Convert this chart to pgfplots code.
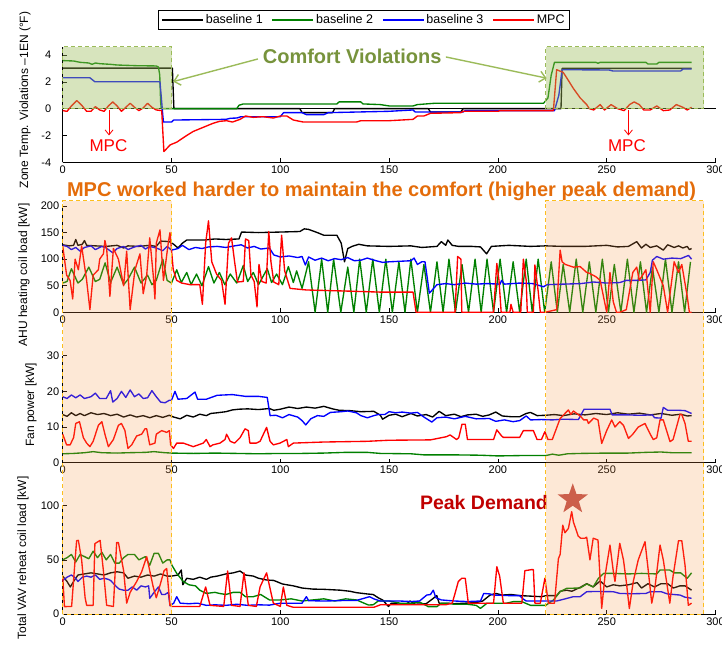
\documentclass[border=0pt]{standalone}
\usepackage{fontspec}
\setmainfont{Liberation Sans}
\usepackage{pgfplots}
\pgfplotsset{compat=1.18}
\usetikzlibrary{arrows.meta}

\definecolor{bgreen}{RGB}{0,128,0}
\definecolor{cvgreen}{RGB}{119,147,60}
\definecolor{cvline}{RGB}{155,187,89}
\definecolor{peach}{RGB}{247,150,70}
\definecolor{gold}{RGB}{252,190,30}
\definecolor{torange}{RGB}{228,108,10}
\definecolor{pdred}{RGB}{192,0,0}
\definecolor{starc}{RGB}{192,80,77}

\pgfdeclareplotmark{fstar}{%
  \pgfpathmoveto{\pgfpointpolar{90}{\pgfplotmarksize}}%
  \pgfpathlineto{\pgfpointpolar{126}{0.40*\pgfplotmarksize}}%
  \pgfpathlineto{\pgfpointpolar{162}{\pgfplotmarksize}}%
  \pgfpathlineto{\pgfpointpolar{198}{0.40*\pgfplotmarksize}}%
  \pgfpathlineto{\pgfpointpolar{234}{\pgfplotmarksize}}%
  \pgfpathlineto{\pgfpointpolar{270}{0.40*\pgfplotmarksize}}%
  \pgfpathlineto{\pgfpointpolar{306}{\pgfplotmarksize}}%
  \pgfpathlineto{\pgfpointpolar{342}{0.40*\pgfplotmarksize}}%
  \pgfpathlineto{\pgfpointpolar{18}{\pgfplotmarksize}}%
  \pgfpathlineto{\pgfpointpolar{54}{0.40*\pgfplotmarksize}}%
  \pgfpathclose
  \pgfusepathqfill
}

\tikzset{ylab/.style={rotate=90, font=\fontsize{12}{14}\selectfont, anchor=center}}

\pgfplotsset{
  panel/.style={
    scale only axis, width=652.8pt, xmin=0, xmax=300,
    axis x line*=bottom, axis y line*=left,
    xtick={0,50,100,150,200,250,300},
    tick align=inside, major tick length=4pt,
    tick style={black, line width=0.5pt},
    axis line style={black, line width=0.6pt},
    tick label style={font=\fontsize{11}{12}\selectfont, black},
    /pgf/number format/assume math mode=true,
    every axis plot post/.append style={line width=1.35pt, line join=round},
    clip=false,
  },
}

\begin{document}
\begin{tikzpicture}
\useasboundingbox (0pt,0pt) rectangle (722pt,-647pt);

% ---------------- Panel 1 ----------------
\begin{axis}[panel, name=p1, at={(62.7pt,-162.3pt)}, anchor=south west,
  height=115.4pt, ymin=-4, ymax=4.6, ytick={-4,-2,0,2,4},
  yticklabel style={xshift=-8pt},
  legend columns=4,
  legend style={at={(axis description cs:0.4616,1.233)}, anchor=center,
    draw=black, line width=0.8pt, font=\fontsize{12.5}{14}\selectfont,
    /tikz/every even column/.append style={column sep=7pt},
    inner xsep=3pt, inner ysep=2.5pt},
  legend image code/.code={\draw[#1] (0pt,0pt) -- (41pt,0pt);},
]
\addplot[black, forget plot] coordinates {(0,0) (300,0)};
\addplot[black] coordinates {(0,3.02) (50.4,3.02) (51.1,0) (109,0) (110,-0.3) (124,-0.3) (125,0) (168,0) (169,-0.25) (183,-0.25) (184,0) (229,0) (229.5,3.0) (289,3.0)};
\addlegendentry{baseline 1}
\addplot[bgreen] coordinates {(0,3.58) (5,3.55) (8,3.45) (12,3.4) (13.5,3.3) (15,3.4) (17,3.35) (22,3.3) (25,3.25) (34,3.2) (43,3.18) (44,3.1) (44.6,2.5) (45,0.5) (45.3,0) (80,0) (81,0.25) (83,0.35) (126,0.35) (127,0.5) (137,0.5) (138,0.35) (146,0.3) (150,0.2) (161,0.2) (163,0.3) (171,0.4) (221,0.4) (223,0.8) (224.5,2.5) (226,3.45) (245,3.45) (246,3.38) (247,3.45) (268,3.45) (269,3.32) (273,3.32) (274,3.45) (289,3.45)};
\addlegendentry{baseline 2}
\addplot[blue] coordinates {(0,2.3) (12.5,2.3) (14.8,2.0) (44.7,2.0) (45.5,0.5) (46,-0.5) (46.3,-1.0) (50,-1.0) (51,-0.85) (75,-0.8) (77,-0.72) (80,-0.7) (82,-0.6) (100,-0.6) (101.5,-0.3) (110,-0.3) (112,-0.45) (120,-0.45) (122,-0.3) (150,-0.2) (161,-0.1) (162,-0.25) (184,-0.25) (185,-0.15) (226,-0.15) (228,1) (229.5,2.9) (251,2.88) (253,2.8) (284,2.8) (285,2.95) (289,2.95)};
\addlegendentry{baseline 3}
\addplot[red] coordinates {(0,-0.15) (2,-0.2) (4,0.2) (6.5,0.6) (9,0.2) (11,-0.2) (13,-0.2) (15,0.15) (17,-0.1) (19,-0.2) (21,0.2) (23,0.5) (25,0.2) (27,-0.2) (29,0.1) (31,0.4) (33,0.1) (35,-0.15) (37,0.05) (39,0.4) (41,0.1) (43,-0.1) (45.5,-0.15) (46.5,-3.2) (49.4,-2.7) (52.4,-2.5) (57,-2.0) (60,-1.7) (63,-1.5) (66,-1.3) (69,-1.1) (72,-0.95) (75.3,-0.9) (78,-1.0) (81.5,-0.8) (84,-0.55) (87.6,-0.65) (92,-0.6) (96.8,-0.7) (100,-0.55) (103,-0.55) (106,-0.85) (110.6,-1.0) (135,-1.0) (137,-0.9) (150,-0.9) (161,-0.8) (163,-0.55) (166,-0.55) (169,-0.35) (183,-0.3) (184,-0.2) (200,-0.2) (201,-0.15) (225.5,-0.15) (227,2.9) (230,2.7) (231.6,2.3) (234.7,1.5) (237.8,0.8) (240.8,0.3) (242,0.0) (244,-0.1) (247,0.3) (249,-0.1) (252,0.3) (255,0.0) (258,-0.15) (260.5,0.3) (262.6,0.5) (265,0.3) (267,-0.1) (270,-0.1) (273,0.2) (276,-0.15) (279,-0.1) (282,0.3) (285,0.1) (287,-0.1) (289,0.1)};
\addlegendentry{MPC}
% comfort shading
\fill[cvline, fill opacity=0.4] (axis cs:0,0) rectangle (axis cs:50,4.6);
\fill[cvline, fill opacity=0.4] (axis cs:222,0) rectangle (axis cs:294.5,4.6);
\draw[cvline, line width=1pt, dash pattern=on 4pt off 3pt] (axis cs:0,0) rectangle (axis cs:50,4.6);
\draw[cvline, line width=1pt, dash pattern=on 4pt off 3pt] (axis cs:222,0) rectangle (axis cs:294.5,4.6);
\node[font=\bfseries\fontsize{20}{22}\selectfont, text=cvgreen] at (axis cs:133,3.93) {Comfort Violations};
\draw[cvline, line width=1.4pt, -{Straight Barb[length=6pt,width=11pt]}] (axis cs:89.7,3.70) -- (axis cs:50.7,2.01);
\draw[cvline, line width=1.4pt, -{Straight Barb[length=6pt,width=11pt]}] (axis cs:176.1,3.85) -- (axis cs:222.4,2.27);
\draw[red, line width=0.8pt, -{Straight Barb[length=5pt,width=8pt]}] (axis cs:21.3,-0.1) -- (axis cs:21.3,-2.0);
\draw[red, line width=0.8pt, -{Straight Barb[length=5pt,width=8pt]}] (axis cs:260,-0.1) -- (axis cs:260,-2.0);
\node[red, font=\fontsize{17}{19}\selectfont] at (axis cs:21,-2.78) {MPC};
\node[red, font=\fontsize{17}{19}\selectfont] at (axis cs:259.3,-2.78) {MPC};
\node[ylab] at (axis description cs:-0.0578,0.54) {Zone Temp. Violations \textendash1EN (°F)};
\end{axis}

% ---------------- Panel 2 ----------------
\begin{axis}[panel, name=p2, at={(62.7pt,-312.3pt)}, anchor=south west,
  height=106.3pt, ymin=0, ymax=200, ytick={0,50,100,150,200}]
\addplot[black] coordinates {(0,127) (3,125) (5,126) (6,137) (7,126) (9,128) (10,135) (11,126) (15,125) (20,124) (25,126) (28,121) (30,125) (35,124) (40,126) (43,124) (45,134) (49,133) (51,128) (53,121) (55,130) (57,136) (65,136) (70,138) (75,137) (81,138) (82.2,151) (90,150) (100,151) (109,152) (111,157) (113,156) (117,150) (120,145) (126,145) (128,130) (129.5,95) (131,120) (133,124) (136,128) (140,125) (150,124) (160,125) (165,122) (172,124) (174,133) (176,126) (177,136) (179,126) (182,124) (188,124) (192,123) (194.8,110) (197,124) (205,126) (215,124) (222,125) (230,124) (240,124) (250,126) (255,123) (260,124) (263.8,133) (266,121) (268,128) (270,122) (273,125) (276,117) (278,127) (281,122) (283,125) (285,121) (287,124) (288,118) (289,120)};
\addplot[bgreen] coordinates {(0,55) (2,58) (4,82) (7,55) (9,62) (12,85) (15,58) (17,62) (19.5,93) (22,56) (25,85) (28,52) (30,62) (33,85) (36,55) (39,70) (41,52) (43,60) (46,100) (48,60) (50,55) (52.4,80) (54.5,56) (57,75) (59,52) (61.5,72) (64,50) (67,86) (69.5,55) (72,75) (74.5,52) (77,72) (80,55) (83,88) (85,58) (87.6,75) (90,52) (94,82) (96,56) (98.3,72) (101,52) (103.7,86) (106,56) (107.5,78) (110,45) (113,95) (116,0) (119,100) (121.8,0) (124.5,100) (127.8,0) (131,85) (133.8,0) (136.5,100) (139.5,0) (142.5,100) (145.5,0) (148.5,100) (151.5,0) (154.5,95) (157.3,0) (160,100) (163,0) (166,90) (169,0) (172,95) (174.8,0) (177.5,100) (180.5,0) (183.5,90) (186.5,0) (189.5,100) (192.3,0) (195,100) (198,0) (201,100) (204,0) (207,95) (210,0) (213,100) (215.8,0) (218.5,100) (221.5,0) (224.5,95) (227.3,0) (230,90) (233,0) (236,100) (239,0) (242,95) (245,0) (248,100) (250.8,0) (253.5,90) (256.5,0) (259.5,100) (262.5,0) (265.5,95) (268.3,0) (271,85) (274,0) (277,100) (280,0) (283,95) (285.8,0) (288.5,95)};
\addplot[blue] coordinates {(0,126) (2,124) (4,118) (6,122) (8,115) (10,122) (13,125) (15,118) (18,124) (20,121) (23,112) (25,120) (28,124) (30,118) (33,123) (36,126) (38,119) (40,124) (43,121) (46,116) (48,124) (50,117) (53,120) (55,126) (58,118) (61,122) (64,120) (67,123) (71,124) (75,122) (79,125) (82,127) (85,121) (88,124) (91,119) (95,121) (97,108) (100,104) (104,106) (108,103) (110,105) (111.5,89) (113,104) (116,98) (119,102) (122,97) (125,101) (128,99) (131,103) (134,97) (137,98) (140,102) (144,97) (147,94) (150,95) (155,96) (160,97) (161.5,102) (163,90) (165,95) (166.5,95) (168.5,36) (172,52) (176,54) (180,52) (185,55) (190,53) (195,54) (201,53) (201.7,60) (203,53) (210,55) (216,54) (221,48) (222.5,52) (230,53) (238,54) (244,57) (250,55) (256,56) (259,60) (264,60) (268,61) (270,75) (271,98) (273,105) (276,100) (280,102) (284,101) (287.6,107) (289,100)};
\addplot[red] coordinates {(0,125) (1.8,70) (3.4,60) (4.6,25) (5.7,100) (7.2,80) (8.7,125) (11,60) (12.5,5) (14,70) (16.4,80) (17,100) (18.7,110) (19.4,135) (20.2,120) (21.7,30) (23.3,120) (25.6,100) (28,50) (29.4,115) (31,5) (33.2,80) (35.5,110) (37,35) (38.6,70) (40,140) (41.6,70) (42.4,25) (43,130) (44.7,155) (46.3,60) (48.5,130) (49.3,150) (50.8,80) (52.4,60) (54.7,55) (58.5,52) (63,52) (64.2,15) (65.7,130) (67,172) (68.5,95) (70.7,72) (73,60) (74.6,15) (76.2,130) (77.6,140) (79,95) (80.3,57) (83,58) (84,138) (85.5,135) (86.5,70) (88,58) (89.3,10) (90.2,90) (91.5,58) (93.5,55) (94.7,152) (95.7,95) (97,57) (99.3,52) (100.6,145) (102,78) (104.5,45) (112,42) (130,40) (146,38) (161,38) (162.4,0) (180.3,0) (181.5,105) (183,100) (183.4,0) (198,0) (199.5,92) (200.5,60) (201.5,0) (205.5,0) (206,15) (207,0) (210.5,0) (211.7,100) (213,60) (213.5,0) (216.3,0) (217,89) (218.5,40) (219.5,0) (221.6,0) (227,5) (228.6,117) (229.5,95) (231,90) (234.7,85) (237.8,86) (240.8,75) (242,73.5) (245,67) (247,60) (250,0) (251.5,75) (253,20) (254.5,0) (256,0) (259,5) (262,75) (263.8,85) (265,60) (268,80) (270,0) (271.4,95) (273,80) (276,50) (278,0) (281,95) (283,75) (284.5,90) (287,30) (288,0) (289,0)};
\coordinate (p2top) at (axis cs:0,210);
\node[font=\bfseries\fontsize{20}{22}\selectfont, text=torange] at (axis description cs:0.4884,1.141) {MPC worked harder to maintain the comfort (higher peak demand)};
\node[ylab] at (axis description cs:-0.0593,0.351) {AHU heating coil load [kW]};
\end{axis}

% ---------------- Panel 3 ----------------
\begin{axis}[panel, name=p3, at={(62.7pt,-462.7pt)}, anchor=south west,
  height=107pt, ymin=0, ymax=30, ytick={0,10,20,30}]
\addplot[black] coordinates {(0,13.5) (2,13) (4,14) (6,13.2) (8,13.8) (10,13.2) (13,14) (16,13.5) (19,13.8) (22,13.2) (25,13.6) (28,12.8) (31,13.4) (34,12.8) (37,13.2) (40,12.6) (43,13.2) (46,12.7) (49,13.3) (51,12.8) (54,12.3) (57,13.3) (60,12.8) (63,13.6) (66,13.2) (68,13.8) (71,14) (75,14.3) (78,14.8) (81,15) (85,15.1) (90,14.9) (95,15.2) (97,14.7) (100,15) (104,15.6) (108,15.2) (112,15.6) (116,15.3) (120,15.8) (124,15.1) (127,14.7) (132,14.6) (137,14.3) (143,14.4) (146,13.3) (147,12.2) (150,13.3) (153,13.6) (156,12.9) (160,13.8) (163,13.1) (167,13.5) (170,12.8) (173,14.4) (176,13.2) (180,13.6) (183,12.9) (186,13.4) (190,13.6) (193,13) (196,13.4) (199,14.2) (202,13.1) (206,12.9) (210,12.9) (213,13.8) (215,14.1) (218,13.2) (222,13.3) (226,13.5) (230,13.2) (235,13.7) (240,13.4) (245,13.8) (250,13.5) (255,14.0) (260,13.6) (265,13.9) (270,13.4) (275,13.8) (280,13.3) (284,13.6) (287,13.1) (289,13.2)};
\addplot[bgreen] coordinates {(0,2.5) (5,2.6) (10,2.8) (14,3.1) (18,2.8) (25,2.7) (30,2.8) (38,2.9) (42,3.1) (47,2.8) (50,2.7) (60,2.6) (70,2.7) (80,2.6) (90,2.5) (100,2.6) (110,2.6) (120,2.7) (130,2.9) (140,2.9) (146,2.6) (160,2.5) (166,2.2) (180,2.2) (192,2.1) (200,1.9) (210,2.0) (222,2.0) (225,2.4) (228,2.1) (232,2.5) (238,2.6) (250,2.7) (260,2.7) (268,2.9) (275,3.0) (280,2.8) (289,2.8)};
\addplot[blue] coordinates {(0,18.5) (2,18) (4,19) (6,18.2) (8,19) (10,18) (13,18.5) (15,19.5) (17,18) (20,18) (22,20.2) (23,17) (25,18) (27,20) (29,18.3) (31,20.4) (33,18.5) (35,19.3) (37,18) (39,18.2) (41,20.2) (43,18.5) (45,17) (47,16.8) (49,17.5) (50,17.5) (51.6,20) (53,17.8) (57,18) (60.8,19.8) (62,17.8) (66,17.8) (71,18.9) (78,19.1) (84,18.6) (90,18.6) (94,18.3) (95.3,13.2) (98,13.3) (101,12.6) (104,13.5) (108,12.8) (110,11.8) (111.7,10.6) (114,12.3) (117,13.2) (120,13) (123,14.1) (128,14.3) (131,14.5) (135,14) (137,13.2) (140,12.6) (143,13.2) (145,13.5) (148,13.5) (150,14.3) (153,14) (156,14.2) (160,13.9) (163,14.1) (166,12.8) (169.6,11.4) (172,12.6) (176,12.8) (180,12.3) (185,13) (190,12.3) (196,12.4) (199,11.6) (203,12) (207,11.5) (210,11.8) (213,13.1) (215,12) (220,12.1) (225,12) (230,12.2) (237,12.1) (239.6,15) (251.5,15) (252.5,13.4) (260,13.4) (265,13.3) (271,13.4) (272,12.6) (275,12.5) (276,15.5) (278,14.7) (283,14.7) (286,14.6) (289,13.8)};
\addplot[red] coordinates {(0,8) (1.8,5) (3.4,5) (5,7) (6,11) (7.7,11.5) (9.5,7) (11,5.5) (12.5,4.5) (14,6) (16.4,10.5) (18,11.5) (19.4,8) (21,4.5) (23.3,6.5) (25.6,10.5) (27,11) (28.6,9) (30,4) (31.7,5) (34,7.5) (36.3,8) (37.8,9.5) (38.6,9.5) (40,5) (42.4,5.5) (43,8) (45.5,9) (47.8,8.5) (49,9) (49.6,5) (50.9,4) (52.4,5.5) (55.4,5.5) (57.7,5) (60,4.5) (64.6,5.5) (66,6.5) (67.7,4.5) (69,5) (72.3,5.5) (74.6,6.5) (75.3,8) (77,6) (79,5.5) (81.5,7) (83.8,9.5) (85.3,9) (86,5.5) (89,5.5) (90.7,6) (93.7,9.9) (95.3,6) (96.8,5) (99.9,5.5) (103,6.5) (103.7,4.5) (106,5.5) (120,5.8) (140,6) (150,6.3) (169,6.4) (176.4,7.3) (178,7.8) (181,6.5) (182,7) (183.5,10.8) (185,10.8) (186,6.5) (198,6.5) (199.5,9.2) (201.7,7.5) (202.5,7.1) (210,7.1) (211.7,9) (216.3,9) (218,6.5) (220,6.5) (221.6,8.7) (223,6.5) (225,6.5) (228.6,12.4) (232.4,14.8) (233.5,13.5) (234.7,14.5) (238,13) (239.4,12) (241,12) (241.6,11) (244,12.5) (246,12) (247.7,5.4) (250,9) (252.3,12) (253.8,10) (256,11.5) (257.7,10.5) (260,6.8) (262,8) (264.5,10) (267.6,11) (270,8) (271.4,6.5) (273,7) (274.5,12) (276,12) (279.1,5.9) (280.5,6.5) (283.7,13.6) (284.5,13.5) (286,11) (287.5,6) (289,6)};
\node[ylab] at (axis description cs:-0.0486,0.54) {Fan power [kW]};
\end{axis}

% ---------------- Panel 4 ----------------
\begin{axis}[panel, name=p4, at={(62.7pt,-614pt)}, anchor=south west,
  height=108.3pt, ymin=0, ymax=100, ytick={0,50,100}]
\addplot[black] coordinates {(0,35) (2,30) (3.5,25) (5,30) (7,36) (10,37) (13,38) (16,37) (19,36) (22,38) (25,39) (28,38) (30,33) (33,35) (36,34) (39,36) (42,35) (45,37) (48,35) (50,35) (53,36) (54.5,40.6) (55.2,27) (57,33) (60,32) (63,34) (66,32) (68,34) (71,35) (75,37) (78.4,38) (81.5,39.7) (84,36) (87.6,35) (90,33) (93.7,31.4) (97,31) (101,27.7) (106,26) (110,24) (115,23) (120,22.8) (127.5,22) (132,21) (135,19.7) (140,18.5) (142.7,18) (145,15) (147,13) (149.7,7) (151,10) (155,9) (158,9.2) (159.6,12) (162,9) (167,9.5) (170,14) (171.9,17) (173,10) (176,10) (180,9.5) (185,10) (190,10.5) (193,12) (196.4,17.5) (199,19) (202,17.5) (206,18) (210,17) (215,16.5) (220,16) (222.4,17) (227,17) (228.6,21) (231.6,22) (234,21) (237.8,24.6) (240.8,28) (243.8,25) (247,30.5) (250,25) (253,27) (256,26) (260,27) (264,29) (266,24) (269,28) (272,25) (275,28) (278,28) (280.6,24) (283.7,26) (286,26) (289,22)};
\addplot[bgreen] coordinates {(0,50) (2,52) (4,55) (6,48) (8,55) (10,53) (12,51) (14,58) (16,52) (18,57) (20,50) (22,55) (24,47) (26,47) (28,52) (30,55) (33,55) (35,50) (38,53) (40,45) (42,56) (44,56) (46,47) (48,50) (49.3,50) (50.2,45) (52.4,37.5) (55.4,30) (58,27) (61,26) (63,22) (66,19) (70,20) (72,19) (75,18) (78.4,20) (81.5,20) (84,16) (87.6,16) (91,18) (95,13) (100,13) (105,14) (110,12) (115,13) (120,14) (125,12) (130,14) (135,13) (140.5,8.3) (142.7,8.5) (145,12) (150,12) (155,10) (160,9.8) (164,11) (168,6.8) (172,6.8) (174,10) (177,10) (180,9) (186,9) (190,8) (192,5.2) (195,10) (204,10) (207,11.4) (211,11.4) (215,8) (222,8) (225.5,12.9) (228.6,20.6) (231.6,23.7) (237.8,24) (240.8,27.7) (243.8,25) (246.2,33) (248.6,37.5) (253,37.5) (260,37) (266,37.5) (273,37) (274.5,40.6) (279,40.6) (281,38) (284,38) (287,33) (289,38)};
\addplot[blue] coordinates {(0,31) (2,34) (4,36) (6,33) (7,30) (9,34) (11,35) (13,34) (15,36) (17,32) (19,33) (21,32) (22,31) (24.8,25) (26,23) (28,22) (30,22) (32,25) (34,22) (36,26) (38,25) (39.5,26) (40,14.5) (42,20) (44,25) (45.5,18) (47,18) (48.5,20) (49.3,7.7) (51,10) (52.4,16) (54,10) (58,9.5) (62,10) (66,8) (70,8.5) (75,8) (80,9) (85,8) (90,8.5) (95,8.2) (100,10) (105,10) (110,10) (112,16) (113,12.3) (120,12) (130,12.5) (135,12.5) (141,16) (143,14) (146,12) (150,12) (155,12) (160,11.5) (164,12) (167.3,17.5) (169,18) (170.3,22) (171.5,15) (174,13) (180,12) (186,11.5) (192,12) (193.5,19) (196.4,18.5) (198,17.5) (205,17) (210,17) (211.5,14) (213,12) (220,12) (227,12) (229,13) (234.7,16) (237.8,16) (240.8,20.6) (245,20.8) (253,20.6) (256,19) (262,18.7) (268,19) (270,20.6) (275,20.6) (278,18.5) (283.7,17.5) (286,15.5) (289,14.5)};
\addplot[red] coordinates {(0,35) (0.8,6.8) (4.1,7) (5.7,50) (6.4,67.7) (7.2,68) (8.7,50) (10.3,15) (11,8) (14,8) (14.8,65) (17.2,68) (18.7,40) (20.2,8) (23.3,7) (24.8,66) (25.6,66) (28,40) (29.4,10) (30.2,15) (31,20) (32.5,25) (34,30) (36.3,39) (38.6,53) (40,40) (41.6,25) (43,15) (44.5,25) (46.6,40) (47.8,42) (49.3,8) (50.2,7) (63,7) (65.7,25) (67.7,8) (74,7) (75.8,39.7) (77.6,8) (81.5,7) (83.3,38) (85.3,8) (89,7) (90.7,25) (93.7,38) (96.8,10) (100,7) (101.4,25) (103,8) (106,6.2) (143,6.2) (146,8.5) (160,8.5) (176,8.5) (179,10) (180.3,19) (181.8,30) (183.4,33) (185,33) (186.4,10) (198,10) (199.5,43.7) (200.8,35) (202.5,10) (211,10) (212.4,40) (215.5,41) (216.3,41) (217,10) (219.5,10) (221.6,33) (223.2,10) (226,10) (227.8,51) (228.6,55) (229.8,82) (230.8,75) (232.4,79) (233.9,94.5) (234.7,85) (236.9,72) (238,70) (240,70) (240.8,71) (242.3,50) (243.8,70) (246,68.3) (247.7,5.2) (249.2,35) (251.5,63.7) (253,40) (253.8,30) (256,65.3) (257.7,50) (259,30) (260.4,5) (262.2,30) (264.5,50) (267.6,66.8) (269.1,40) (270.7,10) (272.2,25) (274.5,63.7) (276,50) (279,10) (280.5,35) (283,67.7) (284.5,67.7) (286,45) (287.5,8) (289,10)};
\addplot[only marks, mark=fstar, mark size=16pt, color=starc, fill=starc, forget plot] coordinates {(234.4,105.9)};
\node[font=\bfseries\fontsize{19.5}{22}\selectfont, text=pdred] at (axis cs:193.6,102.8) {Peak Demand};
\coordinate (a0) at (axis cs:0,0);
\coordinate (a50) at (axis cs:50,0);
\coordinate (a222) at (axis cs:222,0);
\coordinate (a294) at (axis cs:294.5,0);
\node[ylab] at (axis description cs:-0.0608,0.517) {Total VAV reheat coil load [kW]};
\end{axis}

% peach shading across panels 2-4
\fill[peach, fill opacity=0.22] (a0) rectangle (a50 |- p2top);
\fill[peach, fill opacity=0.22] (a222) rectangle (a294 |- p2top);
\draw[gold, line width=1pt, dash pattern=on 4pt off 3pt] (a0) rectangle (a50 |- p2top);
\draw[gold, line width=1pt, dash pattern=on 4pt off 3pt] (a222) rectangle (a294 |- p2top);
\end{tikzpicture}
\end{document}
